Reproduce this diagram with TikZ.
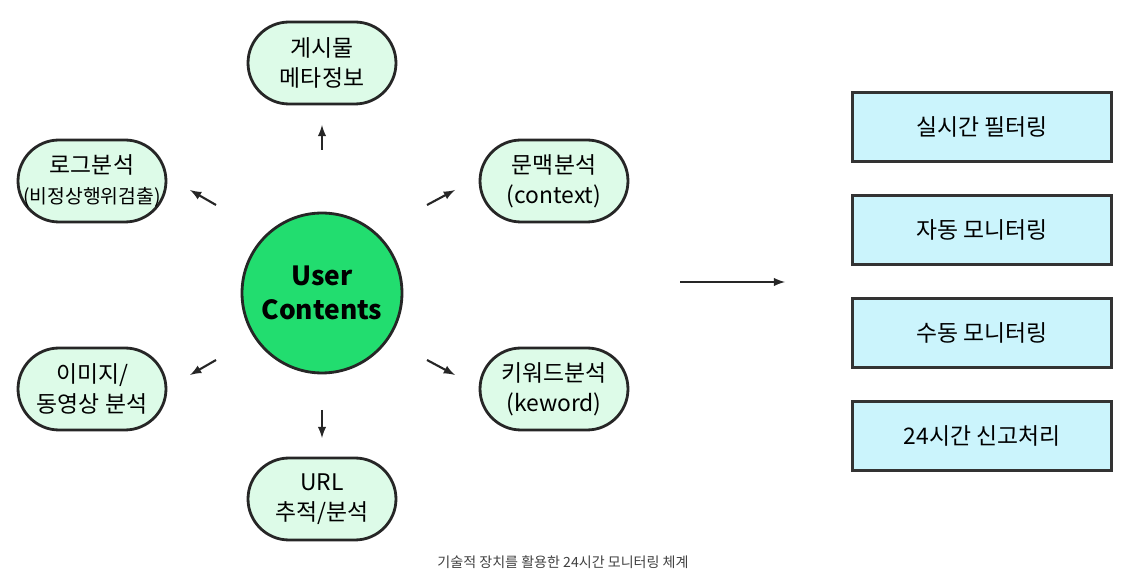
\documentclass[tikz,border=0pt]{standalone}
\usepackage{fontspec}
\setmainfont{Noto Sans CJK KR}
\begin{document}
\begin{tikzpicture}[x=0.02cm,y=-0.02cm,
 pill/.style={draw=black!85,line width=1.6pt,fill=pillg,rounded corners=0.82cm,minimum width=2.96cm,minimum height=1.64cm,inner xsep=2pt,align=center,font=\fontsize{13}{17}\selectfont},
 box/.style={draw=black!80,line width=1.6pt,fill=boxc,minimum width=5.18cm,minimum height=1.38cm,font=\fontsize{13}{17}\selectfont},
 arr/.style={-latex,line width=1.2pt,black!85,shorten >=0pt}]
\definecolor{pillg}{HTML}{DDFBE8}
\definecolor{circg}{HTML}{22DD6F}
\definecolor{boxc}{HTML}{CBF4FC}
\useasboundingbox (0,0) rectangle (1134,587);
\node[circle,draw=black!85,line width=1.6pt,fill=circg,minimum size=3.2cm,align=center,font=\fontsize{15}{19}\selectfont\bfseries] (c) at (322,293) {User\\Contents};
\node[pill] (t) at (322,63) {게시물\\메타정보};
\node[pill] (lt) at (92,181) {로그분석\\{\fontsize{11}{15}\selectfont(비정상행위검출)}};
\node[pill] (rt) at (554,181) {문맥분석\\(context)};
\node[pill] (lb) at (92,389) {이미지/\\동영상 분석};
\node[pill] (rb) at (554,389) {키워드분석\\(keword)};
\node[pill] (b) at (322,499) {URL\\추적/분석};
\coordinate (a1) at (322,150); \coordinate (a2) at (322,125);
\coordinate (b1) at (216,205); \coordinate (b2) at (190,190);
\coordinate (c1) at (427,205); \coordinate (c2) at (455,190);
\coordinate (d1) at (216,360); \coordinate (d2) at (190,375);
\coordinate (e1) at (427,360); \coordinate (e2) at (455,375);
\coordinate (f1) at (322,410); \coordinate (f2) at (322,438);
\coordinate (g1) at (680,282); \coordinate (g2) at (785,282);
\draw[arr] (a1)--(a2); \draw[arr] (b1)--(b2); \draw[arr] (c1)--(c2);
\draw[arr] (d1)--(d2); \draw[arr] (e1)--(e2); \draw[arr] (f1)--(f2);
\draw[arr] (g1)--(g2);
\node[box] (r1) at (982,127) {실시간 필터링};
\node[box] (r2) at (982,230) {자동 모니터링};
\node[box] (r3) at (982,333) {수동 모니터링};
\node[box] (r4) at (982,436) {24시간 신고처리};
\node[font=\fontsize{8}{10}\selectfont,black!75] (cap) at (563,562) {기술적 장치를 활용한 24시간 모니터링 체계};
\end{tikzpicture}
\end{document}
